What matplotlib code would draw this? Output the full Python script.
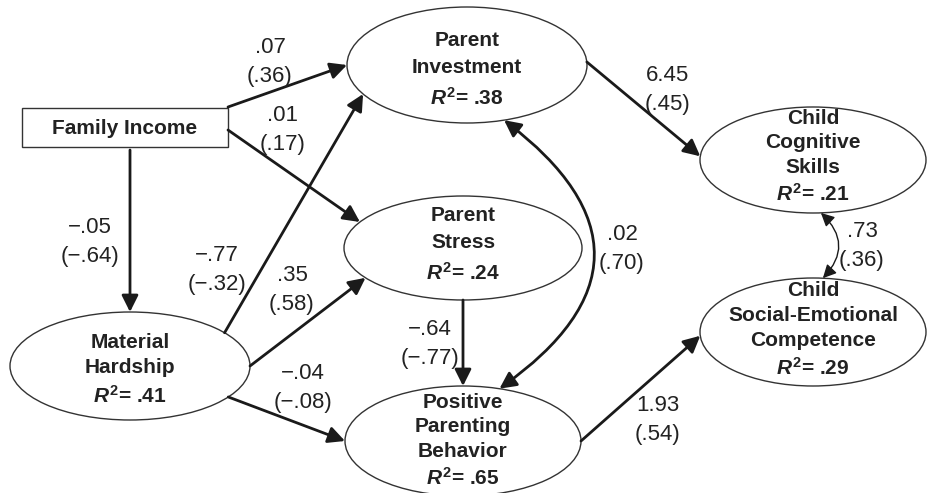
import numpy as np
import matplotlib
matplotlib.use("Agg")
import matplotlib.pyplot as plt
from matplotlib.patches import Ellipse, Rectangle, FancyArrowPatch

plt.rcParams["font.family"] = ["Liberation Sans", "DejaVu Sans"]
plt.rcParams["mathtext.fontset"] = "custom"
plt.rcParams["mathtext.it"] = "Liberation Sans:bold:italic"
plt.rcParams["mathtext.rm"] = "Liberation Sans:bold"
plt.rcParams["mathtext.bf"] = "Liberation Sans:bold"

# Data
node_names = ["Family Income", "Parent\nInvestment", "Parent\nStress", "Material\nHardship",
              "Positive\nParenting\nBehavior", "Child\nCognitive\nSkills",
              "Child\nSocial-Emotional\nCompetence"]
node_r2 = [None, ".38", ".24", ".41", ".65", ".21", ".29"]

# edges: (source, target, unstandardized, standardized)
edge_src = [0, 0, 0, 3, 3, 3, 2, 1, 4]
edge_dst = [1, 2, 3, 1, 2, 4, 4, 5, 6]
edge_coef = [".07", ".01", "\u2212.05", "\u2212.77", ".35", "\u2212.04", "\u2212.64", "6.45", "1.93"]
edge_std = ["(.36)", "(.17)", "(\u2212.64)", "(\u2212.32)", "(.58)", "(\u2212.08)", "(\u2212.77)", "(.45)", "(.54)"]

# correlations (double-headed)
corr_a = [1, 5]
corr_b = [4, 6]
corr_coef = [".02", ".73"]
corr_std = ["(.70)", "(.36)"]

# Layout (pixel coordinates, y down)
node_x = [125, 467, 463, 130, 463, 813, 813]
node_y = [127, 65, 248, 366, 441, 160, 332]
node_w = [206, 240, 238, 240, 236, 226, 226]
node_h = [39, 116, 104, 108, 110, 106, 108]
node_ty = [0, 5, -3, 4, 0, -3, -2]
node_ls = [1.0, 1.55, 1.55, 1.42, 1.36, 1.36, 1.38]

# attachment angles (degrees) on source / target shape
edge_sa = [None, None, None, 38, 0, -35, -90, 3, 0]
edge_ta = [180, 150, 90, -150, -145, 180, 90, 176, 184]
edge_start_box = [(228, 107), (228, 130), (130, 150)]
edge_lx = [270, 283, 90, 217, 292, 303, 430, 668, 658]
edge_ly = [62, 130, 242, 270, 290, 388, 344, 90, 420]

corr_sa = [-72, -86]
corr_ta = [72, 85]
corr_rad = [-0.68, -0.5]
corr_lw = [2.0, 1.0]
corr_lx = [622, 862]
corr_ly = [249, 246]

W, H = 927, 493
fig = plt.figure(figsize=(W / 100, H / 100), dpi=100)
ax = fig.add_axes([0, 0, 1, 1])
ax.set_xlim(0, W)
ax.set_ylim(H, 0)
ax.axis("off")

edge_color = "#1a1a1a"
text_color = "#222222"


def point_on(i, ang):
    t = np.deg2rad(ang)
    return (node_x[i] + node_w[i] / 2 * np.cos(t), node_y[i] - node_h[i] / 2 * np.sin(t))


for i, name in enumerate(node_names):
    if i == 0:
        ax.add_patch(Rectangle((node_x[i] - node_w[i] / 2, node_y[i] - node_h[i] / 2),
                               node_w[i], node_h[i], fill=False, lw=1.0, ec="#333333"))
        ax.text(node_x[i], node_y[i] + 1, name, ha="center", va="center",
                fontsize=15, fontweight="bold", color=text_color)
    else:
        ax.add_patch(Ellipse((node_x[i], node_y[i]), node_w[i], node_h[i], fill=False,
                             lw=1.0, ec="#333333"))
        label = name + "\n" + r"$R^{\mathrm{2}}$= " + node_r2[i]
        ax.text(node_x[i], node_y[i] + node_ty[i], label, ha="center", va="center",
                fontsize=15, fontweight="bold", color=text_color, linespacing=node_ls[i])

for k in range(len(edge_src)):
    s, d = edge_src[k], edge_dst[k]
    if s == 0:
        p0 = edge_start_box[k]
    else:
        p0 = point_on(s, edge_sa[k])
    p1 = point_on(d, edge_ta[k])
    arr = FancyArrowPatch(p0, p1, arrowstyle="-|>,head_length=10,head_width=5",
                          mutation_scale=1, lw=2.0, color=edge_color, shrinkA=0, shrinkB=0)
    ax.add_patch(arr)
    ax.text(edge_lx[k], edge_ly[k], edge_coef[k] + "\n" + edge_std[k], ha="center",
            va="center", fontsize=16, color=text_color, linespacing=1.45)

for k in range(len(corr_a)):
    p0 = point_on(corr_a[k], corr_sa[k])
    p1 = point_on(corr_b[k], corr_ta[k])
    hl = 10 if corr_lw[k] > 1.5 else 8
    arr = FancyArrowPatch(p0, p1, arrowstyle=f"<|-|>,head_length={hl},head_width={hl / 2}",
                          connectionstyle=f"arc3,rad={corr_rad[k]}", mutation_scale=1,
                          lw=corr_lw[k], color=edge_color, shrinkA=0, shrinkB=0)
    ax.add_patch(arr)
    ax.text(corr_lx[k], corr_ly[k], corr_coef[k] + "\n" + corr_std[k], ha="center",
            va="center", fontsize=16, color=text_color, linespacing=1.45)

fig.savefig("out.png", dpi=100, facecolor="white")
